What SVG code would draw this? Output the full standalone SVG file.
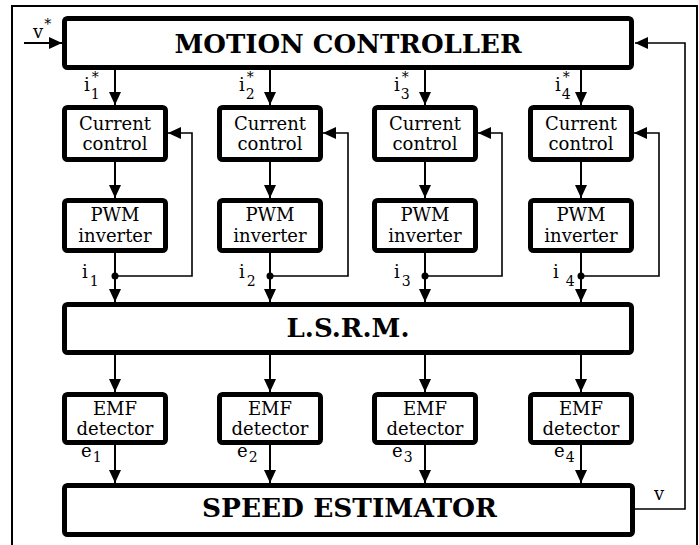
<svg xmlns="http://www.w3.org/2000/svg" width="699" height="545" viewBox="0 0 699 545">
<defs>
<marker id="ah" markerUnits="userSpaceOnUse" markerWidth="13" markerHeight="12" refX="13" refY="6" orient="auto">
<path d="M0,0 L13,6 L0,12 z" fill="#000"/>
</marker>
<style>
.box{fill:#fff;stroke:#000;stroke-width:5;}
.t{font-family:"DejaVu Serif","Liberation Serif",serif;font-size:18px;fill:#000;text-anchor:middle;}
.b{font-family:"DejaVu Serif","Liberation Serif",serif;font-weight:bold;font-size:26px;fill:#000;text-anchor:middle;}
.l{font-family:"DejaVu Serif","Liberation Serif",serif;font-size:18px;fill:#000;}
.s{font-size:14px;}
.c{fill:none;stroke:#000;stroke-width:2;}
.f{fill:none;stroke:#000;stroke-width:1.6;}
</style>
</defs>
<rect x="12" y="6" width="685" height="545" fill="none" stroke="#000" stroke-width="2"/>

<g id="motion-controller">
<rect class="box" x="64.5" y="18.5" width="567" height="49" rx="3"/>
<text class="b" x="348" y="53" textLength="347" lengthAdjust="spacingAndGlyphs">MOTION CONTROLLER</text>
</g>

<g id="current-control-1"><rect class="box" x="64.5" y="107.5" width="101" height="52" rx="3"/><text class="t" x="115" y="130">Current</text><text class="t" x="115" y="150">control</text></g>
<g id="current-control-2"><rect class="box" x="219.5" y="107.5" width="101" height="52" rx="3"/><text class="t" x="270" y="130">Current</text><text class="t" x="270" y="150">control</text></g>
<g id="current-control-3"><rect class="box" x="374.5" y="107.5" width="101" height="52" rx="3"/><text class="t" x="425" y="130">Current</text><text class="t" x="425" y="150">control</text></g>
<g id="current-control-4"><rect class="box" x="530.5" y="107.5" width="101" height="52" rx="3"/><text class="t" x="581" y="130">Current</text><text class="t" x="581" y="150">control</text></g>

<g id="pwm-1"><rect class="box" x="64.5" y="200.5" width="101" height="50" rx="3"/><text class="t" x="115" y="221">PWM</text><text class="t" x="115" y="242">inverter</text></g>
<g id="pwm-2"><rect class="box" x="219.5" y="200.5" width="101" height="50" rx="3"/><text class="t" x="270" y="221">PWM</text><text class="t" x="270" y="242">inverter</text></g>
<g id="pwm-3"><rect class="box" x="374.5" y="200.5" width="101" height="50" rx="3"/><text class="t" x="425" y="221">PWM</text><text class="t" x="425" y="242">inverter</text></g>
<g id="pwm-4"><rect class="box" x="530.5" y="200.5" width="101" height="50" rx="3"/><text class="t" x="581" y="221">PWM</text><text class="t" x="581" y="242">inverter</text></g>

<g id="lsrm">
<rect class="box" x="64.5" y="304.5" width="567" height="48" rx="3"/>
<text class="b" x="348" y="337" textLength="123" lengthAdjust="spacingAndGlyphs">L.S.R.M.</text>
</g>

<g id="emf-1"><rect class="box" x="64.5" y="394.5" width="101" height="48" rx="3"/><text class="t" x="115" y="415">EMF</text><text class="t" x="115" y="435">detector</text></g>
<g id="emf-2"><rect class="box" x="219.5" y="394.5" width="101" height="48" rx="3"/><text class="t" x="270" y="415">EMF</text><text class="t" x="270" y="435">detector</text></g>
<g id="emf-3"><rect class="box" x="374.5" y="394.5" width="101" height="48" rx="3"/><text class="t" x="425" y="415">EMF</text><text class="t" x="425" y="435">detector</text></g>
<g id="emf-4"><rect class="box" x="530.5" y="394.5" width="101" height="48" rx="3"/><text class="t" x="581" y="415">EMF</text><text class="t" x="581" y="435">detector</text></g>

<g id="speed-estimator">
<rect class="box" x="64.5" y="485.5" width="568" height="49" rx="3"/>
<text class="b" x="349.5" y="517" textLength="295" lengthAdjust="spacingAndGlyphs">SPEED ESTIMATOR</text>
</g>

<g id="connectors">
<line class="c" x1="24" y1="43" x2="62" y2="43" marker-end="url(#ah)"/>
<line class="c" x1="115" y1="70" x2="115" y2="105" marker-end="url(#ah)"/>
<line class="c" x1="270" y1="70" x2="270" y2="105" marker-end="url(#ah)"/>
<line class="c" x1="425" y1="70" x2="425" y2="105" marker-end="url(#ah)"/>
<line class="c" x1="581" y1="70" x2="581" y2="105" marker-end="url(#ah)"/>
<line class="c" x1="115" y1="162" x2="115" y2="198" marker-end="url(#ah)"/>
<line class="c" x1="270" y1="162" x2="270" y2="198" marker-end="url(#ah)"/>
<line class="c" x1="425" y1="162" x2="425" y2="198" marker-end="url(#ah)"/>
<line class="c" x1="581" y1="162" x2="581" y2="198" marker-end="url(#ah)"/>
<line class="c" x1="115" y1="253" x2="115" y2="302" marker-end="url(#ah)"/>
<line class="c" x1="270" y1="253" x2="270" y2="302" marker-end="url(#ah)"/>
<line class="c" x1="425" y1="253" x2="425" y2="302" marker-end="url(#ah)"/>
<line class="c" x1="581" y1="253" x2="581" y2="302" marker-end="url(#ah)"/>
<polyline class="f" points="115,276 192,276 192,133 168,133" marker-end="url(#ah)"/>
<polyline class="f" points="270,276 348,276 348,133 323,133" marker-end="url(#ah)"/>
<polyline class="f" points="425,276 502,276 502,133 478,133" marker-end="url(#ah)"/>
<polyline class="f" points="581,276 659,276 659,133 634,133" marker-end="url(#ah)"/>
<circle cx="115" cy="276" r="3.5"/>
<circle cx="270" cy="276" r="3.5"/>
<circle cx="425" cy="276" r="3.5"/>
<circle cx="581" cy="276" r="3.5"/>
<line class="c" x1="115" y1="355" x2="115" y2="392" marker-end="url(#ah)"/>
<line class="c" x1="270" y1="355" x2="270" y2="392" marker-end="url(#ah)"/>
<line class="c" x1="425" y1="355" x2="425" y2="392" marker-end="url(#ah)"/>
<line class="c" x1="581" y1="355" x2="581" y2="392" marker-end="url(#ah)"/>
<line class="c" x1="115" y1="445" x2="115" y2="483" marker-end="url(#ah)"/>
<line class="c" x1="270" y1="445" x2="270" y2="483" marker-end="url(#ah)"/>
<line class="c" x1="425" y1="445" x2="425" y2="483" marker-end="url(#ah)"/>
<line class="c" x1="581" y1="445" x2="581" y2="483" marker-end="url(#ah)"/>
<polyline class="f" points="635,509 685,509 685,43 635,43" marker-end="url(#ah)"/>
</g>

<g id="labels">
<text class="l" x="33" y="38">v<tspan class="s" dx="1" dy="-9">*</tspan></text>
<text class="l" x="84" y="91">i<tspan class="s" dx="1" dy="8">1</tspan><tspan class="s" dx="-8" dy="-17">*</tspan></text>
<text class="l" x="239" y="91">i<tspan class="s" dx="1" dy="8">2</tspan><tspan class="s" dx="-8" dy="-17">*</tspan></text>
<text class="l" x="394" y="91">i<tspan class="s" dx="1" dy="8">3</tspan><tspan class="s" dx="-8" dy="-17">*</tspan></text>
<text class="l" x="555" y="91">i<tspan class="s" dx="1" dy="8">4</tspan><tspan class="s" dx="-8" dy="-17">*</tspan></text>
<text class="l" x="82" y="278">i<tspan class="s" dx="2" dy="8">1</tspan></text>
<text class="l" x="239" y="278">i<tspan class="s" dx="2" dy="8">2</tspan></text>
<text class="l" x="394" y="278">i<tspan class="s" dx="2" dy="8">3</tspan></text>
<text class="l" x="553" y="278">i<tspan class="s" dx="7" dy="8">4</tspan></text>
<text class="l" x="81" y="457">e<tspan class="s" dx="1" dy="5">1</tspan></text>
<text class="l" x="237" y="457">e<tspan class="s" dx="1" dy="5">2</tspan></text>
<text class="l" x="392" y="457">e<tspan class="s" dx="1" dy="5">3</tspan></text>
<text class="l" x="554" y="457">e<tspan class="s" dx="1" dy="5">4</tspan></text>
<text class="l" x="654" y="500">v</text>
</g>
</svg>
